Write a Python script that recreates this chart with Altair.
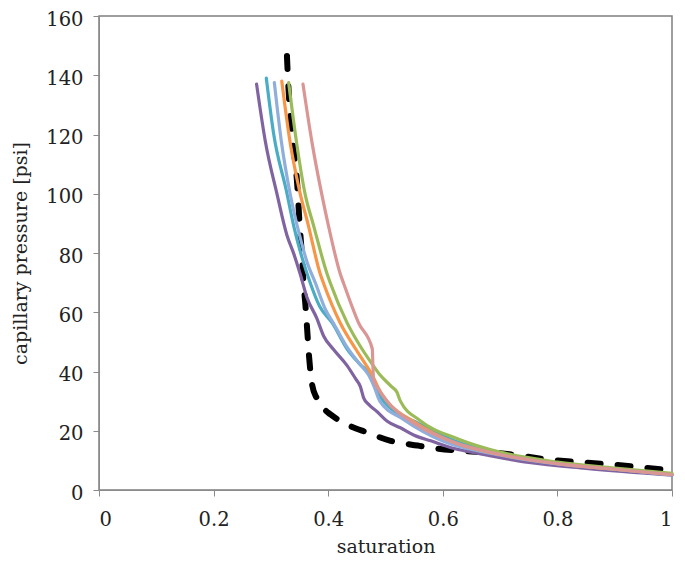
import altair as alt
import pandas as pd

# series names and colours
names = ["dashed", "purple", "teal", "lightblue", "orange", "green", "pink"]
colors = ["#000000", "#8064A2", "#4BACC6", "#8FAEDC", "#F79646", "#9BBB59", "#D99694"]

# saturation / capillary pressure
dashed_s = [0.328, 0.330, 0.338, 0.346, 0.350, 0.354, 0.357, 0.360, 0.363, 0.366, 0.372, 0.380, 0.392, 0.404, 0.433, 0.468, 0.509, 0.556, 0.590, 0.650, 0.700, 0.788, 0.900, 1.000]
dashed_p = [146.5, 138.0, 118.0, 103.0, 90.0, 79.7, 69.7, 63.0, 55.0, 46.5, 35.5, 31.0, 27.5, 25.5, 22.1, 19.4, 16.6, 15.0, 14.0, 13.0, 12.4, 10.2, 8.5, 6.6]

purple_s = [0.275, 0.290, 0.311, 0.328, 0.340, 0.351, 0.363, 0.380, 0.392, 0.409, 0.433, 0.448, 0.456, 0.462, 0.471, 0.485, 0.503, 0.526, 0.550, 0.579, 0.620, 0.666, 0.750, 0.850, 1.000]
purple_p = [137.0, 118.0, 99.6, 86.0, 79.7, 73.0, 65.0, 58.0, 52.0, 47.5, 42.0, 37.5, 35.0, 31.0, 28.8, 26.5, 23.2, 21.0, 18.5, 16.6, 14.0, 12.2, 9.3, 7.3, 5.0]

teal_s = [0.292, 0.305, 0.327, 0.340, 0.355, 0.369, 0.385, 0.407, 0.433, 0.455, 0.474, 0.486, 0.497, 0.520, 0.550, 0.620, 0.700, 0.800, 0.900, 1.000]
teal_p = [139.0, 120.0, 101.0, 89.0, 78.0, 69.7, 62.0, 56.4, 47.6, 42.5, 38.7, 33.0, 29.9, 26.0, 23.2, 16.6, 12.2, 9.0, 7.0, 5.2]

lightblue_s = [0.306, 0.318, 0.334, 0.350, 0.363, 0.378, 0.395, 0.410, 0.435, 0.455, 0.470, 0.480, 0.490, 0.530, 0.600, 0.700, 0.800, 0.900, 1.000]
lightblue_p = [137.5, 118.0, 99.6, 86.0, 77.0, 69.7, 61.0, 56.0, 47.6, 42.5, 39.0, 35.0, 30.0, 24.0, 16.5, 11.8, 8.8, 7.0, 5.1]

orange_s = [0.319, 0.333, 0.350, 0.365, 0.386, 0.392, 0.421, 0.448, 0.465, 0.477, 0.490, 0.503, 0.550, 0.620, 0.700, 0.800, 0.900, 1.000]
orange_p = [138.0, 118.0, 101.0, 89.6, 73.0, 69.7, 56.4, 47.6, 42.5, 38.7, 33.5, 29.9, 23.0, 16.0, 12.0, 9.0, 7.0, 5.3]

green_s = [0.331, 0.345, 0.360, 0.374, 0.398, 0.404, 0.433, 0.459, 0.475, 0.491, 0.510, 0.520, 0.526, 0.560, 0.630, 0.700, 0.800, 0.900, 1.000]
green_p = [137.5, 117.0, 99.6, 89.6, 73.0, 69.7, 56.4, 47.6, 43.0, 38.7, 35.0, 33.0, 30.0, 23.5, 17.0, 12.8, 9.4, 7.4, 5.6]

pink_s = [0.356, 0.372, 0.389, 0.400, 0.421, 0.427, 0.453, 0.477, 0.478, 0.479, 0.488, 0.503, 0.550, 0.620, 0.700, 0.800, 0.900, 1.000]
pink_p = [137.0, 117.0, 99.6, 89.6, 73.0, 69.7, 56.4, 47.6, 42.0, 37.5, 34.0, 29.9, 22.5, 16.0, 12.0, 8.9, 7.0, 5.2]

series = {
    "dashed": (dashed_s, dashed_p),
    "purple": (purple_s, purple_p),
    "teal": (teal_s, teal_p),
    "lightblue": (lightblue_s, lightblue_p),
    "orange": (orange_s, orange_p),
    "green": (green_s, green_p),
    "pink": (pink_s, pink_p),
}

rows = []
for name, (ss, pp) in series.items():
    for i, (s, p) in enumerate(zip(ss, pp)):
        rows.append({"series": name, "s": s, "p": p, "i": i})
df = pd.DataFrame(rows)

x_ticks = [0, 0.2, 0.4, 0.6, 0.8, 1]
y_ticks = [0, 20, 40, 60, 80, 100, 120, 140, 160]

xenc = alt.X("s:Q", scale=alt.Scale(domain=[0, 1], nice=False),
             axis=alt.Axis(values=x_ticks, format="~g", title="saturation",
                           labelPadding=14, titlePadding=9))
yenc = alt.Y("p:Q", scale=alt.Scale(domain=[0, 160], nice=False),
             axis=alt.Axis(values=y_ticks, title="capillary pressure [psi]",
                           labelPadding=10, labelOffset=3, titlePadding=15))
cenc = alt.Color("series:N", scale=alt.Scale(domain=names, range=colors), legend=None)

dash_layer = alt.Chart(df[df.series == "dashed"]).mark_line(
    strokeWidth=6, strokeDash=[13, 17], strokeCap="round", color="black",
    interpolate="monotone"
).encode(x=xenc, y=yenc, order="i:Q")

solid_layer = alt.Chart(df[df.series != "dashed"]).mark_line(
    strokeWidth=3.2, strokeCap="round", strokeJoin="round", interpolate="monotone"
).encode(x=xenc, y=yenc, color=cenc, detail="series:N", order="i:Q")

chart = alt.layer(dash_layer, solid_layer).properties(
    width=573, height=474,
    autosize=alt.AutoSizeParams(type="none"),
    padding={"left": 91, "top": 8, "right": 5, "bottom": 66},
).configure_view(
    stroke="#7f7f7f", strokeWidth=1.5
).configure_axis(
    grid=False, domainColor="#8a8a8a", tickColor="#8a8a8a", tickSize=6,
    labelFont="DejaVu Serif", labelFontSize=19.5, labelColor="#222222",
    titleFont="DejaVu Serif", titleFontSize=19, titleFontWeight="normal",
    titleColor="#222222"
)

chart.save("out.html", embed_options={"renderer": "svg", "actions": False})
